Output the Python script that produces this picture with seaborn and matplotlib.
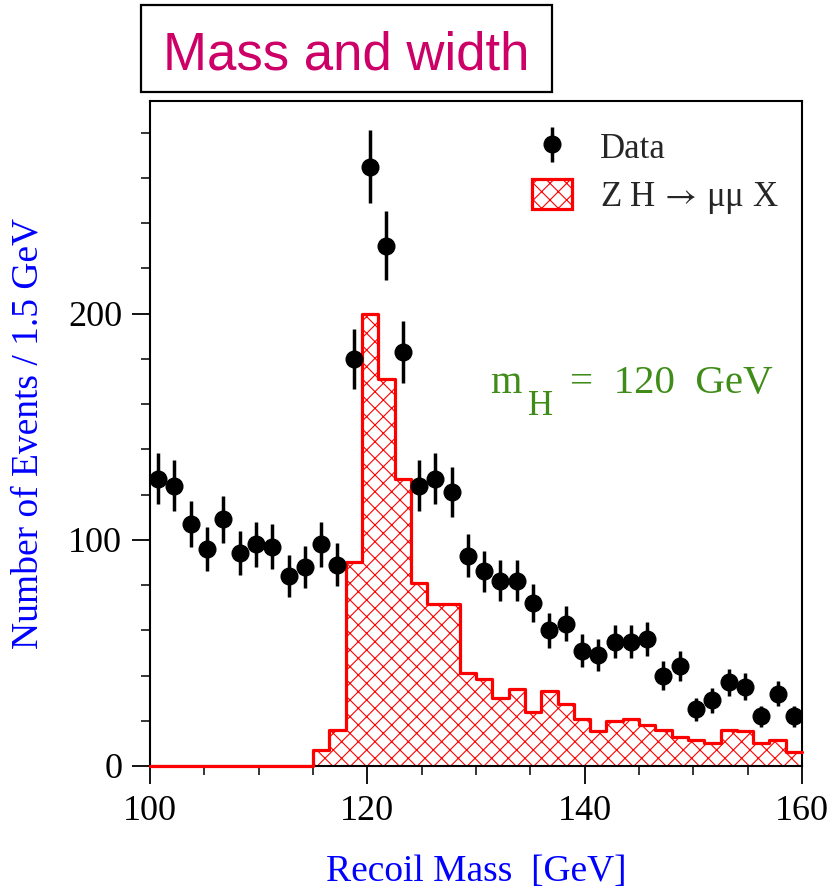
import numpy as np
import pandas as pd
import matplotlib
matplotlib.use("Agg")
import matplotlib.pyplot as plt
from matplotlib.patches import Rectangle, Patch
from matplotlib.ticker import MultipleLocator
import seaborn as sns

# Recoil-mass binning: 40 bins of 1.5 GeV between 100 and 160 GeV
mass_range = (100.0, 160.0)
bin_width = 1.5
bin_centers = np.arange(mass_range[0] + bin_width / 2, mass_range[1], bin_width)

# Observed events per bin
data_counts = [127, 124, 107, 96, 109, 94, 98, 97, 84, 88,
               98, 89, 180, 265, 230, 183, 124, 127, 121, 93,
               86, 82, 82, 72, 60, 63, 51, 49, 55, 55,
               56, 40, 44, 25, 29, 37, 35, 22, 32, 22]

# Expected ZH -> mu mu X signal per bin
signal_counts = [0, 0, 0, 0, 0, 0, 0, 0, 0, 0,
                 7, 16, 90, 200, 171, 127, 81, 71.5, 71.5, 41,
                 38.5, 30, 34, 24, 33, 27.5, 21, 15.5, 20, 21,
                 18, 16, 13, 11.5, 10, 16, 15.5, 10, 11.5, 6]

x_ticks = [100, 120, 140, 160]
y_ticks = [0, 100, 200]

df = pd.DataFrame({"mass": bin_centers, "data": data_counts, "signal": signal_counts})

sns.set_style("ticks")
plt.rcParams["font.family"] = ["Liberation Serif", "DejaVu Serif"]
plt.rcParams["mathtext.fontset"] = "stix"
plt.rcParams["hatch.color"] = "red"
plt.rcParams["hatch.linewidth"] = 0.8

W, H = 830, 892
fig = plt.figure(figsize=(W / 100, H / 100), dpi=100)
ax = fig.add_axes([150 / W, 1 - 766 / H, 652 / W, 665 / H])

# Signal histogram: hatched area ...
sns.histplot(data=df, x="mass", weights="signal", binwidth=bin_width,
             binrange=mass_range, element="step", fill=True, color="red",
             alpha=1.0, linewidth=0, ax=ax)
poly = ax.collections[-1]
poly.set_facecolor("white")
poly.set_edgecolor("red")
poly.set_linewidth(0)
poly.set_hatch("xx")

# ... and its step outline (runs along zero for empty bins)
sns.histplot(data=df, x="mass", weights="signal", binwidth=bin_width,
             binrange=mass_range, element="step", fill=False, color="red",
             linewidth=2.3, ax=ax)
outline = ax.lines[-1]
outline.set_color("red")
outline.set_zorder(3)
outline.set_clip_on(False)

# Data points with Poisson errors
eb = ax.errorbar(df["mass"], df["data"], yerr=np.sqrt(df["data"]), fmt="o",
                 color="black", ms=12, elinewidth=2.5, capsize=0, zorder=5)

ax.set_xlim(100, 160)
ax.set_ylim(0, 294)
ax.set_xticks(x_ticks)
ax.set_yticks(y_ticks)
ax.xaxis.set_minor_locator(MultipleLocator(5))
ax.yaxis.set_minor_locator(MultipleLocator(20))
ax.tick_params(which="major", direction="out", length=13, width=1.3,
               labelsize=26, pad=7, colors="black")
ax.tick_params(which="minor", direction="out", length=6.5, width=1.3)
ax.tick_params(axis="x", which="major", pad=8)
for s in ax.spines.values():
    s.set_linewidth(1.5)
    s.set_color("black")
    s.set_visible(True)
ax.grid(False)

ax.set_xlabel("Recoil Mass  [GeV]", fontsize=27, color="blue", labelpad=19)
ax.set_ylabel("Number of Events / 1.5 GeV", fontsize=27, color="blue", labelpad=16)

# Legend
sig_handle = Patch(facecolor="white", edgecolor="red", hatch="xx", linewidth=2.3)
ax.legend([eb, sig_handle], ["Data", r"Z H $\!\rightarrow\!$ μμ X"],
          loc="upper left", bbox_to_anchor=((532 - 150) / 652, (766 - 131) / 665),
          frameon=False, fontsize=25, handlelength=1.15, handleheight=0.92,
          handletextpad=0.8, labelspacing=0.4, borderpad=0, borderaxespad=0)

# Higgs mass annotation
green = "#3f8c18"
ax.text((490 - 150) / 652, (766 - 393) / 665, "m", transform=ax.transAxes,
        fontsize=29, color=green, va="baseline", ha="left")
ax.text((528 - 150) / 652, (766 - 415) / 665, "H", transform=ax.transAxes,
        fontsize=25, color=green, va="baseline", ha="left")
ax.text((570 - 150) / 652, (766 - 393) / 665, "=  120  GeV", transform=ax.transAxes,
        fontsize=29.5, color=green, va="baseline", ha="left")

# Title box
fig.add_artist(Rectangle((141 / W, 1 - 92 / H), 411 / W, 87 / H,
                         transform=fig.transFigure, facecolor="white",
                         edgecolor="black", linewidth=1.6, zorder=10))
fig.text(346.5 / W, 1 - 70 / H, "Mass and width", fontsize=38,
         family=["Liberation Sans", "DejaVu Sans"], color="#cc0066",
         ha="center", va="baseline", zorder=11)

fig.savefig("out.png", dpi=100)
